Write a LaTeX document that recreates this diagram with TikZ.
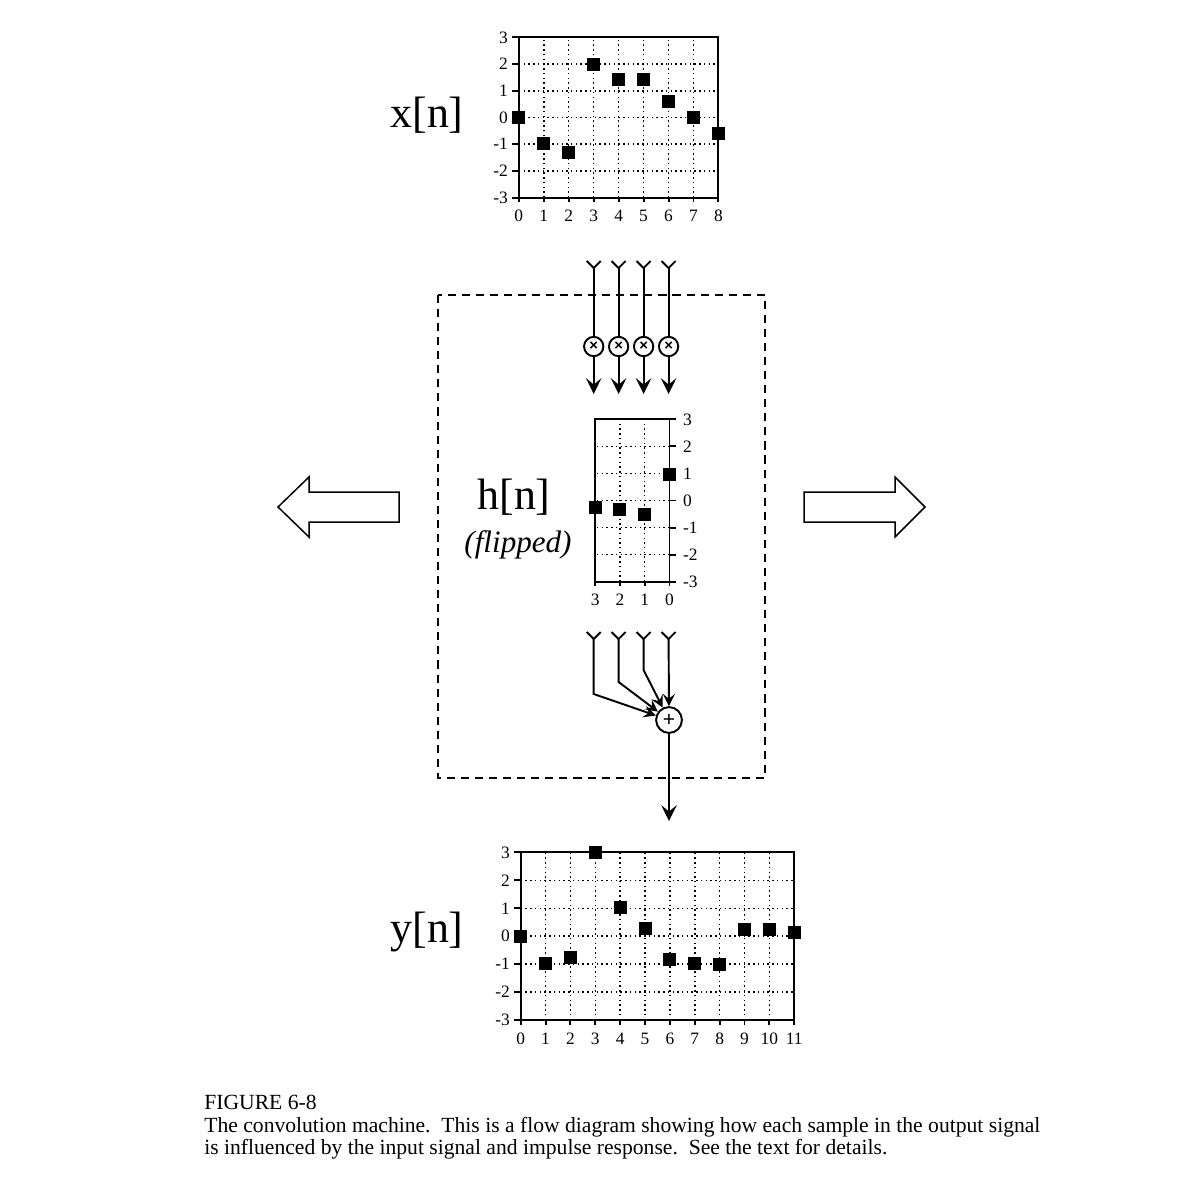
\documentclass[tikz,border=0pt]{standalone}
\usepackage{fontspec}
\setmainfont{Liberation Serif}
\setsansfont{Liberation Sans}
\usetikzlibrary{arrows.meta}
\tikzset{
  frame/.style={line width=1.1pt},
  gridline/.style={line width=0.85pt,dash pattern=on 0.85pt off 1.85pt},
  sample/.style={rectangle,fill=black,minimum size=7.4pt,inner sep=0pt},
  ticklbl/.style={font=\fontsize{9.9}{10}\selectfont,inner sep=0.5pt},
  biglbl/.style={font=\fontsize{25}{27}\selectfont,inner sep=0pt},
  wire/.style={line width=1.1pt},
  flow/.style={line width=1.1pt,-{Stealth[length=9pt,width=8.8pt,inset=3.6pt]}},
  flowsmall/.style={line width=1.1pt,-{Stealth[length=7pt,width=7pt,inset=2.8pt]}},
  multnode/.style={circle,draw,line width=1.1pt,minimum size=11pt,inner sep=0pt,
    font=\sffamily\bfseries\fontsize{8.5}{8.5}\selectfont},
  addnode/.style={circle,draw,line width=1.1pt,minimum size=14.7pt,inner sep=0pt,
    font=\sffamily\fontsize{12}{12}\selectfont},
  bigarrow/.style={line width=0.85pt,line join=miter},
}
\begin{document}
\begin{tikzpicture}[x=0.02cm,y=-0.02cm]
\useasboundingbox (0,0) rectangle (1202,1177);

% input signal
\node (xlbl) at (427,115) [biglbl] {x[n]};
\begin{scope}[shift={(518.8,117.5)},x=0.4992cm,y=0.5346cm]
  \foreach \i in {1,...,7} \draw[gridline] (\i,-3) -- (\i,3);
  \foreach \j in {-2,...,2} \draw[gridline] (0,\j) -- (8,\j);
  \draw[frame] (0,-3) rectangle (8,3);
  \foreach \j in {-3,...,3} {
    \draw[frame] (0,\j) -- ++(-3.6pt,0);
    \node at (0,\j) [ticklbl,anchor=east,xshift=-5.5pt] {\j};
  }
  \foreach \i in {0,...,8} {
    \draw[frame] (\i,-3) -- ++(0,-2.6pt);
    \node at (\i,-3) [ticklbl,anchor=north,yshift=-6.5pt] {\i};
  }
  \foreach \v [count=\i from 0] in {0,-0.99,-1.31,2,1.43,1.43,0.59,0,-0.59}
    \node (xs\i) at (\i,\v) [sample] {};
\end{scope}

% machine
\draw[wire,dash pattern=on 4.6pt off 3.4pt] (438,295) rectangle (765,778);
\foreach \col/\xpos in {1/593.7,2/618.6,3/643.6,4/668.6} {
  \coordinate (fin\col) at (\xpos,268);
  \draw[wire] (fin\col) -- +(-7,-7);
  \draw[wire] (fin\col) -- +(7,-7);
  \node (mul\col) at (\xpos,346.5) [multnode] {×};
  \coordinate (mout\col) at (\xpos,394);
  \draw[wire] (fin\col) -- (mul\col);
  \draw[flow] (mul\col) -- (mout\col);
}

\node (hlbl) at (514,497) [biglbl] {h[n]};
\node (flbl) at (518,545) [font=\fontsize{17.7}{19}\selectfont\itshape,inner sep=0pt] {(flipped)};
\begin{scope}[shift={(669.5,500.5)},x=-0.496cm,y=0.5413cm]
  \foreach \i in {1,2} \draw[gridline] (\i,-3) -- (\i,3);
  \foreach \j in {-2,...,2} \draw[gridline] (0,\j) -- (3,\j);
  \draw[frame] (0,-3) rectangle (3,3);
  \foreach \j in {-3,...,3} {
    \draw[frame] (0,\j) -- ++(3.6pt,0);
    \node at (0,\j) [ticklbl,anchor=west,xshift=7pt] {\j};
  }
  \foreach \i in {0,...,3} {
    \draw[frame] (\i,-3) -- ++(0,-2.6pt);
    \node at (\i,-3) [ticklbl,anchor=north,yshift=-6.5pt] {\i};
  }
  \foreach \v [count=\i from 0] in {0.97,-0.52,-0.32,-0.24}
    \node (hs\i) at (\i,\v) [sample] {};
\end{scope}

\node (add) at (669,720) [addnode] {+};
\foreach \col/\xpos/\drop in {1/593.7/55,2/618.6/43,3/643.6/31} {
  \coordinate (ain\col) at (\xpos,639);
  \draw[wire] (ain\col) -- +(-7,-7);
  \draw[wire] (ain\col) -- +(7,-7);
  \draw[flowsmall] (ain\col) -- ++(0,\drop) -- (add);
}
\coordinate (ain4) at (668.6,639);
\draw[wire] (ain4) -- +(-7,-7);
\draw[wire] (ain4) -- +(7,-7);
\draw[flowsmall] (ain4) -- (add);
\coordinate (yout) at (669,821);
\draw[flow] (add) -- (yout);

% shifting arrows
\draw[bigarrow] (278,507) -- (309,477) -- (309,492) -- (399,492) -- (399,522) -- (309,522) -- (309,537) -- cycle;
\draw[bigarrow] (925,507) -- (895,477) -- (895,492) -- (804,492) -- (804,522) -- (895,522) -- (895,537) -- cycle;

% output signal
\node (ylbl) at (427,932) [biglbl] {y[n]};
\begin{scope}[shift={(520.7,936.2)},x=0.4974cm,y=0.559cm]
  \foreach \i in {1,...,10} \draw[gridline] (\i,-3) -- (\i,3);
  \foreach \j in {-2,...,2} \draw[gridline] (0,\j) -- (11,\j);
  \draw[frame] (0,-3) rectangle (11,3);
  \foreach \j in {-3,...,3} {
    \draw[frame] (0,\j) -- ++(-3.6pt,0);
    \node at (0,\j) [ticklbl,anchor=east,xshift=-5.5pt] {\j};
  }
  \foreach \i in {0,...,11} {
    \draw[frame] (\i,-3) -- ++(0,-2.6pt);
    \node at (\i,-3) [ticklbl,anchor=north,yshift=-6.5pt] {\i};
  }
  \foreach \v [count=\i from 0] in {0,-0.97,-0.77,3,1.02,0.28,-0.85,-0.97,-1.0,0.25,0.25,0.13}
    \node (ys\i) at (\i,\v) [sample] {};
\end{scope}

\node (caption) at (204,1095) [anchor=north west,align=left,inner sep=0pt,
  font=\fontsize{12.3}{12.8}\selectfont] {FIGURE 6-8\\
The convolution machine.\ \ This is a flow diagram showing how each sample in the output signal\\
is influenced by the input signal and impulse response.\ \ See the text for details.};
\end{tikzpicture}
\end{document}
